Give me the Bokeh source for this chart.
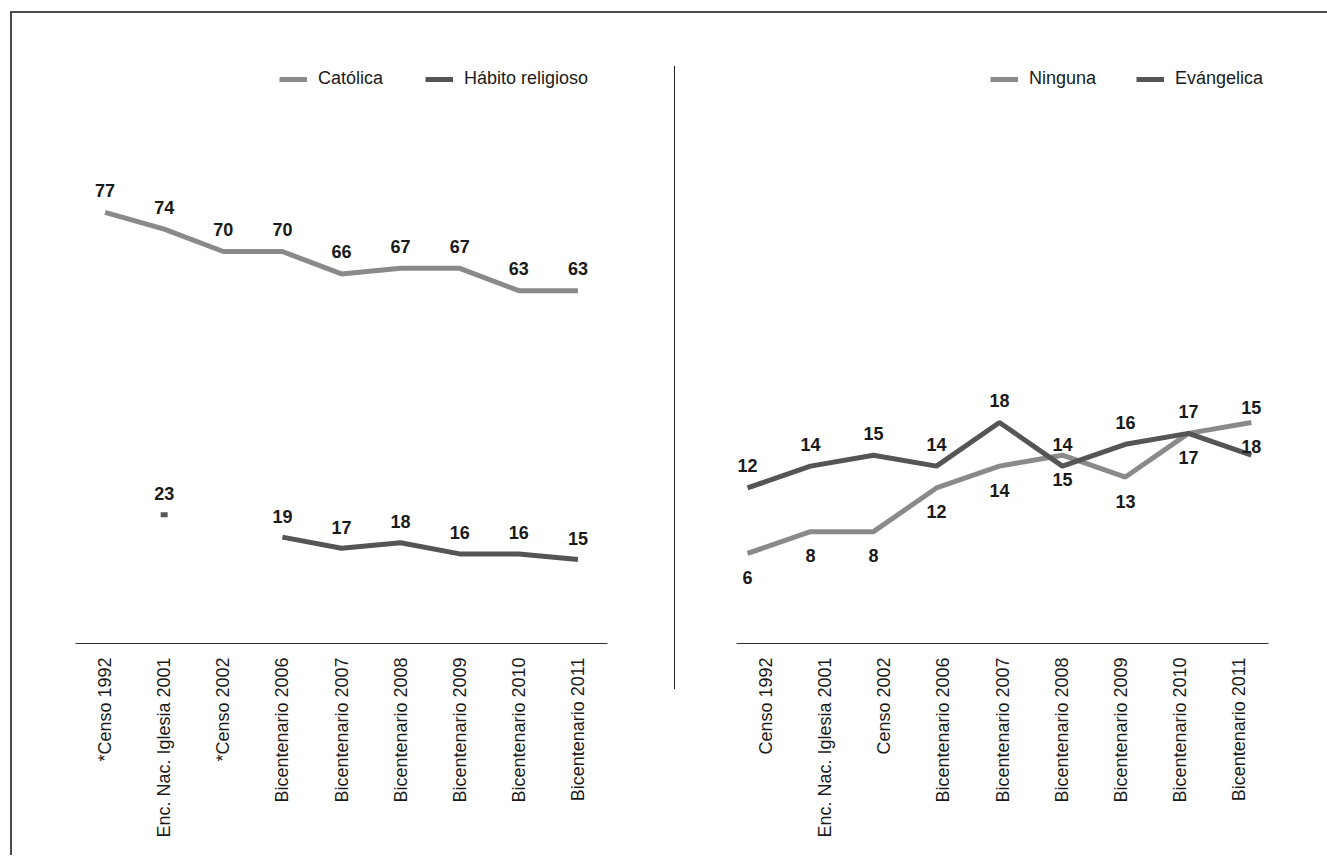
import math
from bokeh.plotting import figure
from bokeh.models import (Range1d, FactorRange, Legend, LegendItem, Spacer,
                          FixedTicker)
from bokeh.layouts import row
from bokeh.core.properties import value
from bokeh.embed import file_html
from bokeh.resources import INLINE

# ---------------- data ----------------
cats_left = ["*Censo 1992", "Enc. Nac. Iglesia 2001", "*Censo 2002",
             "Bicentenario 2006", "Bicentenario 2007", "Bicentenario 2008",
             "Bicentenario 2009", "Bicentenario 2010", "Bicentenario 2011"]
cats_right = ["Censo 1992", "Enc. Nac. Iglesia 2001", "Censo 2002",
              "Bicentenario 2006", "Bicentenario 2007", "Bicentenario 2008",
              "Bicentenario 2009", "Bicentenario 2010", "Bicentenario 2011"]
catolica = [77, 74, 70, 70, 66, 67, 67, 63, 63]
habito = [None, 23, None, 19, 17, 18, 16, 16, 15]
ninguna = [6, 8, 8, 12, 14, 15, 13, 17, 18]
evangelica = [12, 14, 15, 14, 18, 14, 16, 17, 15]

# ---------------- style ----------------
FONT = "Liberation Sans"
LIGHT = "#8a8a8a"
DARK = "#555555"
TXT = "#1a1a1a"
FIG_H = 842


def base_fig(x_range, y0, y1, width, mb_left, mb_right):
    p = figure(x_range=x_range, y_range=Range1d(y0, y1),
               width=width, height=FIG_H, output_backend="svg",
               toolbar_location=None, y_axis_location=None,
               min_border_left=mb_left, min_border_right=mb_right,
               min_border_top=27, min_border_bottom=212)
    p.grid.visible = False
    p.outline_line_color = None
    p.background_fill_color = "white"
    p.border_fill_color = "white"
    ax = p.xaxis[0]
    ax.axis_line_color = "#333333"
    ax.axis_line_width = 1
    ax.major_tick_line_color = None
    ax.minor_tick_line_color = None
    ax.major_tick_out = 0
    ax.major_tick_in = 0
    ax.minor_tick_out = 0
    ax.minor_tick_in = 0
    ax.major_label_orientation = math.pi / 2
    ax.major_label_text_font = FONT
    ax.major_label_text_font_size = "18px"
    ax.major_label_text_color = TXT
    ax.major_label_standoff = 14
    return p


def labels(p, xs, ys, dy):
    pts = [(x, y, d) for x, y, d in zip(xs, ys, dy) if y is not None]
    p.text(x=[a for a, _, _ in pts], y=[b for _, b, _ in pts],
           text=[str(b) for _, b, _ in pts], y_offset=[c for _, _, c in pts],
           text_align="center", text_baseline="middle",
           text_font=value(FONT), text_font_style="bold",
           text_font_size="18px", text_color=TXT)


def make_legend(p, items, loc, spacing):
    lg = Legend(items=[LegendItem(label=l, renderers=[r]) for l, r in items],
                location=loc, orientation="horizontal",
                glyph_width=28, glyph_height=20, label_height=20,
                label_standoff=11, spacing=spacing, padding=0, margin=0,
                border_line_color=None, background_fill_alpha=0,
                label_text_font=FONT, label_text_font_size="18px",
                label_text_color=TXT)
    p.add_layout(lg)


# ---------------- left panel ----------------
p1 = base_fig(FactorRange(*cats_left), 0, 107.68, 662, 63, 67)
r_cat = p1.line(x=cats_left, y=catolica, line_width=5, line_color=LIGHT)
hab_y = [float("nan") if v is None else v for v in habito]
r_hab = p1.line(x=cats_left, y=hab_y, line_width=5, line_color=DARK)
# isolated points (no neighbours) shown as a short dash
iso = [i for i, v in enumerate(habito) if v is not None
       and (i == 0 or habito[i - 1] is None)
       and (i == len(habito) - 1 or habito[i + 1] is None)]
p1.rect(x=[cats_left[i] for i in iso], y=[habito[i] for i in iso],
        width=7, height=5, width_units="screen", height_units="screen",
        fill_color=DARK, line_color=None)
labels(p1, cats_left, catolica, [-22] * len(catolica))
labels(p1, cats_left, habito, [-21] * len(habito))
make_legend(p1, [("Católica", r_cat), ("Hábito religioso", r_hab)], (204, 554), 42)

# ---------------- right panel ----------------
# series drawn on index positions; the original's lines run slightly wider
# than the evenly spaced category labels underneath them
XS, XE = -0.175, 8.272
p2 = base_fig(Range1d(XS, XE), -2.244, 52.98, 652, 61, 59)
n = len(cats_right)
tick_pos = [XS + (i + 0.5) * (XE - XS) / n for i in range(n)]
ax2 = p2.xaxis[0]
ax2.ticker = FixedTicker(ticks=tick_pos, minor_ticks=[])
ax2.major_label_overrides = {t: c for t, c in zip(tick_pos, cats_right)}
idx = list(range(n))
r_nin = p2.line(x=idx, y=ninguna, line_width=5, line_color=LIGHT)
r_eva = p2.line(x=idx, y=evangelica, line_width=5, line_color=DARK)
eva_dy = [-22] * len(evangelica)
eva_dy[-1] = -48  # moved up to avoid the crossing lines
labels(p2, idx, evangelica, eva_dy)
labels(p2, idx, ninguna, [24] * len(ninguna))
make_legend(p2, [("Ninguna", r_nin), ("Evángelica", r_eva)], (254, 554), 40)

divider = Spacer(width=1, height=623, margin=(53, 0, 0, 0),
                 styles={"background-color": "#222222"})

layout = row(p1, divider, p2, margin=(11, 0, 0, 10),
             styles={"border-top": "2px solid #4a4a4a",
                     "border-left": "2px solid #4a4a4a"})

open("out.html", "w").write(file_html(layout, INLINE))
